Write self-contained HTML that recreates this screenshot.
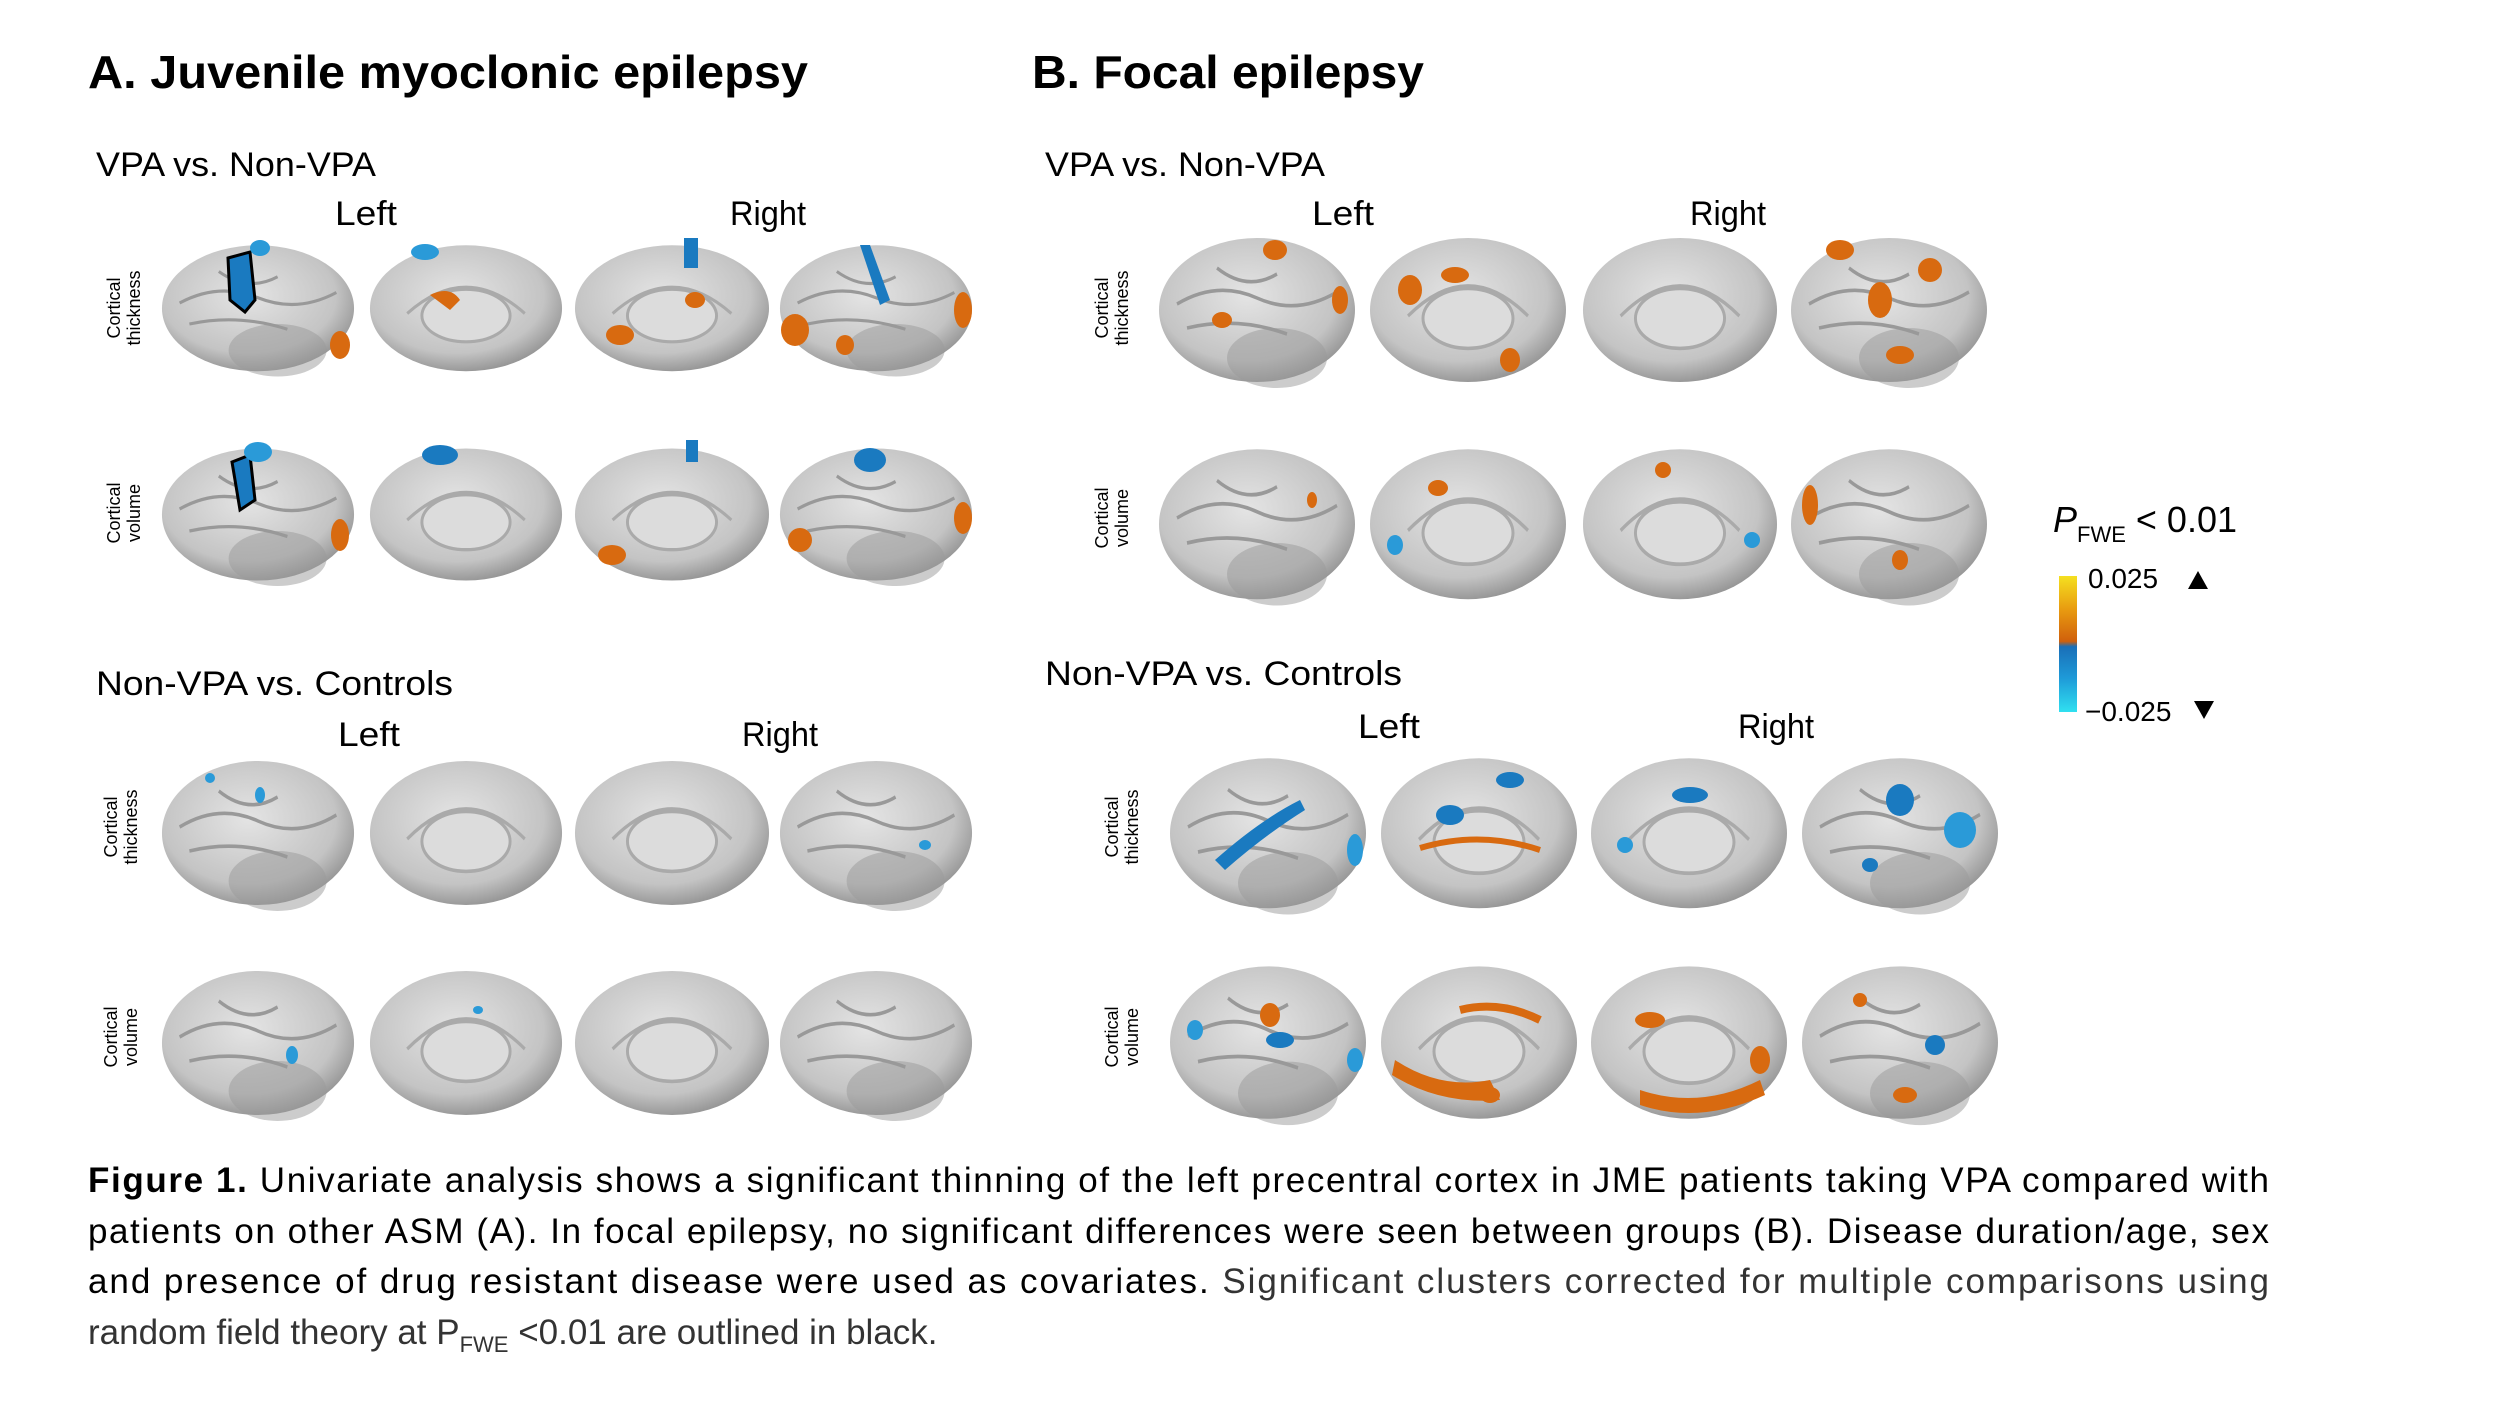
<!DOCTYPE html>
<html><head><meta charset="utf-8"><style>
html,body{margin:0;padding:0;background:#fff;}
svg{display:block;font-family:"Liberation Sans",sans-serif;}
</style></head><body>
<svg width="2500" height="1406" viewBox="0 0 2500 1406" xmlns="http://www.w3.org/2000/svg">
<defs>
<radialGradient id="br" cx="45%" cy="40%" r="65%">
<stop offset="0" stop-color="#e4e4e4"/><stop offset="0.7" stop-color="#c4c4c4"/><stop offset="1" stop-color="#8a8a8a"/>
</radialGradient>
<linearGradient id="cb" x1="0" y1="0" x2="0" y2="1">
<stop offset="0" stop-color="#f5e020"/><stop offset="0.25" stop-color="#e89a10"/><stop offset="0.48" stop-color="#d0600c"/><stop offset="0.52" stop-color="#1a6fb8"/><stop offset="0.75" stop-color="#1e9ad8"/><stop offset="1" stop-color="#30e0f0"/>
</linearGradient>
<g id="brain"><ellipse cx="100" cy="65" rx="98" ry="60" fill="url(#br)"/><ellipse cx="120" cy="105" rx="50" ry="25" fill="#9a9a9a" opacity="0.5"/><path d="M20 60 Q60 40 100 55 T180 50 M30 80 Q80 70 130 85 M60 30 Q90 50 120 35" stroke="#999" stroke-width="3" fill="none"/></g>
<g id="med"><ellipse cx="100" cy="65" rx="98" ry="60" fill="url(#br)"/><ellipse cx="100" cy="72" rx="45" ry="25" fill="#dcdcdc" stroke="#aaa" stroke-width="3"/><path d="M40 70 Q100 20 160 70" stroke="#aaa" stroke-width="3" fill="none"/></g>
</defs>

<text x="88" y="88" font-size="46" font-weight="bold" textLength="720" lengthAdjust="spacingAndGlyphs">A. Juvenile myoclonic epilepsy</text>
<text x="1032" y="88" font-size="46" font-weight="bold" textLength="392" lengthAdjust="spacingAndGlyphs">B. Focal epilepsy</text>

<g font-size="34">
<text x="96" y="176" textLength="280" lengthAdjust="spacingAndGlyphs">VPA vs. Non-VPA</text>
<text x="335" y="225" textLength="62" lengthAdjust="spacingAndGlyphs">Left</text>
<text x="730" y="225" textLength="76" lengthAdjust="spacingAndGlyphs">Right</text>
<text x="96" y="695" textLength="357" lengthAdjust="spacingAndGlyphs">Non-VPA vs. Controls</text>
<text x="338" y="746" textLength="62" lengthAdjust="spacingAndGlyphs">Left</text>
<text x="742" y="746" textLength="76" lengthAdjust="spacingAndGlyphs">Right</text>
<text x="1045" y="176" textLength="280" lengthAdjust="spacingAndGlyphs">VPA vs. Non-VPA</text>
<text x="1312" y="225" textLength="62" lengthAdjust="spacingAndGlyphs">Left</text>
<text x="1690" y="225" textLength="76" lengthAdjust="spacingAndGlyphs">Right</text>
<text x="1045" y="685" textLength="357" lengthAdjust="spacingAndGlyphs">Non-VPA vs. Controls</text>
<text x="1358" y="738" textLength="62" lengthAdjust="spacingAndGlyphs">Left</text>
<text x="1738" y="738" textLength="76" lengthAdjust="spacingAndGlyphs">Right</text>
</g>

<!-- row labels -->
<g font-size="18" text-anchor="middle">
<text transform="translate(120,308) rotate(-90)">Cortical</text><text transform="translate(140,308) rotate(-90)">thickness</text>
<text transform="translate(120,513) rotate(-90)">Cortical</text><text transform="translate(140,513) rotate(-90)">volume</text>
<text transform="translate(117,827) rotate(-90)">Cortical</text><text transform="translate(137,827) rotate(-90)">thickness</text>
<text transform="translate(117,1037) rotate(-90)">Cortical</text><text transform="translate(137,1037) rotate(-90)">volume</text>
<text transform="translate(1108,308) rotate(-90)">Cortical</text><text transform="translate(1128,308) rotate(-90)">thickness</text>
<text transform="translate(1108,518) rotate(-90)">Cortical</text><text transform="translate(1128,518) rotate(-90)">volume</text>
<text transform="translate(1118,827) rotate(-90)">Cortical</text><text transform="translate(1138,827) rotate(-90)">thickness</text>
<text transform="translate(1118,1037) rotate(-90)">Cortical</text><text transform="translate(1138,1037) rotate(-90)">volume</text>
</g>

<!-- A brains -->
<g>
<use href="#brain" transform="translate(160,240) scale(0.98,1.05)"/>
<use href="#med" transform="translate(368,240) scale(0.98,1.05)"/>
<use href="#med" transform="translate(573,240) scale(0.99,1.05)"/>
<use href="#brain" transform="translate(778,240) scale(0.98,1.05)"/>
<path d="M228 258 L250 252 L255 300 L245 312 L230 300 Z" fill="#1a7ac0" stroke="#000" stroke-width="3"/>
<ellipse cx="260" cy="248" rx="10" ry="8" fill="#2a9ad8"/>
<ellipse cx="340" cy="345" rx="10" ry="14" fill="#d86a10"/>
<ellipse cx="425" cy="252" rx="14" ry="8" fill="#2a9ad8"/>
<path d="M430 295 Q450 285 460 300 L450 310 Z" fill="#d86a10"/>
<rect x="684" y="238" width="14" height="30" fill="#1a7ac0"/>
<ellipse cx="620" cy="335" rx="14" ry="10" fill="#d86a10"/>
<ellipse cx="695" cy="300" rx="10" ry="8" fill="#d86a10"/>
<path d="M860 245 L870 245 L890 300 L880 305 Z" fill="#1a7ac0"/>
<ellipse cx="795" cy="330" rx="14" ry="16" fill="#d86a10"/>
<ellipse cx="845" cy="345" rx="9" ry="10" fill="#d86a10"/>
<ellipse cx="963" cy="310" rx="9" ry="18" fill="#d86a10"/>

<use href="#brain" transform="translate(160,443) scale(0.98,1.1)"/>
<use href="#med" transform="translate(368,443) scale(0.98,1.1)"/>
<use href="#med" transform="translate(573,443) scale(0.99,1.1)"/>
<use href="#brain" transform="translate(778,443) scale(0.98,1.1)"/>
<path d="M232 462 L250 455 L255 500 L240 510 Z" fill="#1a7ac0" stroke="#000" stroke-width="3"/>
<ellipse cx="258" cy="452" rx="14" ry="10" fill="#2a9ad8"/>
<ellipse cx="340" cy="535" rx="9" ry="16" fill="#d86a10"/>
<ellipse cx="440" cy="455" rx="18" ry="10" fill="#1a7ac0"/>
<rect x="686" y="440" width="12" height="22" fill="#1a7ac0"/>
<ellipse cx="612" cy="555" rx="14" ry="10" fill="#d86a10"/>
<ellipse cx="870" cy="460" rx="16" ry="12" fill="#1a7ac0"/>
<ellipse cx="800" cy="540" rx="12" ry="12" fill="#d86a10"/>
<ellipse cx="963" cy="518" rx="9" ry="16" fill="#d86a10"/>

<use href="#brain" transform="translate(160,755) scale(0.98,1.2)"/>
<use href="#med" transform="translate(368,755) scale(0.98,1.2)"/>
<use href="#med" transform="translate(573,755) scale(0.99,1.2)"/>
<use href="#brain" transform="translate(778,755) scale(0.98,1.2)"/>
<ellipse cx="210" cy="778" rx="5" ry="5" fill="#2a9ad8"/>
<ellipse cx="260" cy="795" rx="5" ry="8" fill="#2a9ad8"/>
<ellipse cx="925" cy="845" rx="6" ry="5" fill="#2a9ad8"/>

<use href="#brain" transform="translate(160,965) scale(0.98,1.2)"/>
<use href="#med" transform="translate(368,965) scale(0.98,1.2)"/>
<use href="#med" transform="translate(573,965) scale(0.99,1.2)"/>
<use href="#brain" transform="translate(778,965) scale(0.98,1.2)"/>
<ellipse cx="292" cy="1055" rx="6" ry="9" fill="#2a9ad8"/>
<ellipse cx="478" cy="1010" rx="5" ry="4" fill="#2a9ad8"/>
</g>

<!-- B brains -->
<g>
<use href="#brain" transform="translate(1157,232) scale(1.0,1.2)"/>
<use href="#med" transform="translate(1368,232) scale(1.0,1.2)"/>
<use href="#med" transform="translate(1581,232) scale(0.99,1.2)"/>
<use href="#brain" transform="translate(1789,232) scale(1.0,1.2)"/>
<ellipse cx="1275" cy="250" rx="12" ry="10" fill="#d86a10"/>
<ellipse cx="1222" cy="320" rx="10" ry="8" fill="#d86a10"/>
<ellipse cx="1340" cy="300" rx="8" ry="14" fill="#d86a10"/>
<ellipse cx="1410" cy="290" rx="12" ry="15" fill="#d86a10"/>
<ellipse cx="1455" cy="275" rx="14" ry="8" fill="#d86a10"/>
<ellipse cx="1510" cy="360" rx="10" ry="12" fill="#d86a10"/>
<ellipse cx="1840" cy="250" rx="14" ry="10" fill="#d86a10"/>
<ellipse cx="1880" cy="300" rx="12" ry="18" fill="#d86a10"/>
<ellipse cx="1930" cy="270" rx="12" ry="12" fill="#d86a10"/>
<ellipse cx="1900" cy="355" rx="14" ry="9" fill="#d86a10"/>

<use href="#brain" transform="translate(1157,443) scale(1.0,1.25)"/>
<use href="#med" transform="translate(1368,443) scale(1.0,1.25)"/>
<use href="#med" transform="translate(1581,443) scale(0.99,1.25)"/>
<use href="#brain" transform="translate(1789,443) scale(1.0,1.25)"/>
<ellipse cx="1312" cy="500" rx="5" ry="8" fill="#d86a10"/>
<ellipse cx="1438" cy="488" rx="10" ry="8" fill="#d86a10"/>
<ellipse cx="1395" cy="545" rx="8" ry="10" fill="#2a9ad8"/>
<ellipse cx="1663" cy="470" rx="8" ry="8" fill="#d86a10"/>
<ellipse cx="1752" cy="540" rx="8" ry="8" fill="#2a9ad8"/>
<ellipse cx="1810" cy="505" rx="8" ry="20" fill="#d86a10"/>
<ellipse cx="1900" cy="560" rx="8" ry="10" fill="#d86a10"/>

<use href="#brain" transform="translate(1168,752) scale(1.0,1.25)"/>
<use href="#med" transform="translate(1379,752) scale(1.0,1.25)"/>
<use href="#med" transform="translate(1589,752) scale(1.0,1.25)"/>
<use href="#brain" transform="translate(1800,752) scale(1.0,1.25)"/>
<path d="M1215 860 Q1260 820 1300 800 L1305 810 Q1265 835 1225 870 Z" fill="#1a7ac0"/>
<ellipse cx="1355" cy="850" rx="8" ry="16" fill="#2a9ad8"/>
<ellipse cx="1450" cy="815" rx="14" ry="10" fill="#1a7ac0"/>
<ellipse cx="1510" cy="780" rx="14" ry="8" fill="#1a7ac0"/>
<path d="M1420 848 Q1480 830 1540 850" stroke="#d86a10" stroke-width="6" fill="none"/>
<ellipse cx="1690" cy="795" rx="18" ry="8" fill="#1a7ac0"/>
<ellipse cx="1625" cy="845" rx="8" ry="8" fill="#2a9ad8"/>
<ellipse cx="1900" cy="800" rx="14" ry="16" fill="#1a7ac0"/>
<ellipse cx="1960" cy="830" rx="16" ry="18" fill="#2a9ad8"/>
<ellipse cx="1870" cy="865" rx="8" ry="7" fill="#1a7ac0"/>

<use href="#brain" transform="translate(1168,960) scale(1.0,1.27)"/>
<use href="#med" transform="translate(1379,960) scale(1.0,1.27)"/>
<use href="#med" transform="translate(1589,960) scale(1.0,1.27)"/>
<use href="#brain" transform="translate(1800,960) scale(1.0,1.27)"/>
<ellipse cx="1270" cy="1015" rx="10" ry="12" fill="#d86a10"/>
<ellipse cx="1280" cy="1040" rx="14" ry="8" fill="#1a7ac0"/>
<ellipse cx="1195" cy="1030" rx="8" ry="10" fill="#2a9ad8"/>
<ellipse cx="1355" cy="1060" rx="8" ry="12" fill="#2a9ad8"/>
<path d="M1395 1060 Q1440 1090 1490 1080 L1500 1100 Q1440 1105 1392 1075 Z" fill="#d86a10"/>
<path d="M1460 1010 Q1500 1000 1540 1020" stroke="#d86a10" stroke-width="8" fill="none"/>
<ellipse cx="1490" cy="1095" rx="10" ry="8" fill="#d86a10"/>
<path d="M1640 1090 Q1700 1110 1760 1080 L1765 1095 Q1700 1125 1640 1105 Z" fill="#d86a10"/>
<ellipse cx="1650" cy="1020" rx="15" ry="8" fill="#d86a10"/>
<ellipse cx="1760" cy="1060" rx="10" ry="14" fill="#d86a10"/>
<ellipse cx="1935" cy="1045" rx="10" ry="10" fill="#1a7ac0"/>
<ellipse cx="1905" cy="1095" rx="12" ry="8" fill="#d86a10"/>
<ellipse cx="1860" cy="1000" rx="7" ry="7" fill="#d86a10"/>
</g>

<!-- legend -->
<text x="2053" y="532" font-size="36"><tspan font-style="italic">P</tspan><tspan font-size="22" dy="10">FWE</tspan><tspan dy="-10"> &lt; 0.01</tspan></text>
<rect x="2059" y="576" width="18" height="136" fill="url(#cb)"/>
<text x="2088" y="588" font-size="28">0.025</text>
<path d="M2188 589 L2208 589 L2198 571 Z" fill="#000"/>
<text x="2085" y="721" font-size="28">−0.025</text>
<path d="M2194 701 L2214 701 L2204 719 Z" fill="#000"/>

<!-- caption -->
<g font-size="35">
<text x="88" y="1192" textLength="2181" lengthAdjust="spacing"><tspan font-weight="bold">Figure 1.</tspan> Univariate analysis shows a significant thinning of the left precentral cortex in JME patients taking VPA compared with</text>
<text x="88" y="1243" textLength="2181" lengthAdjust="spacing">patients on other ASM (A). In focal epilepsy, no significant differences were seen between groups (B). Disease duration/age, sex</text>
<text x="88" y="1293" textLength="2181" lengthAdjust="spacing">and presence of drug resistant disease were used as covariates. <tspan fill="#333">Significant clusters corrected for multiple comparisons using</tspan></text>
<text x="88" y="1344" fill="#333">random field theory at P<tspan font-size="22" dy="8">FWE</tspan><tspan dy="-8"> &lt;0.01 are outlined in black.</tspan></text>
</g>
</svg>
</body></html>
